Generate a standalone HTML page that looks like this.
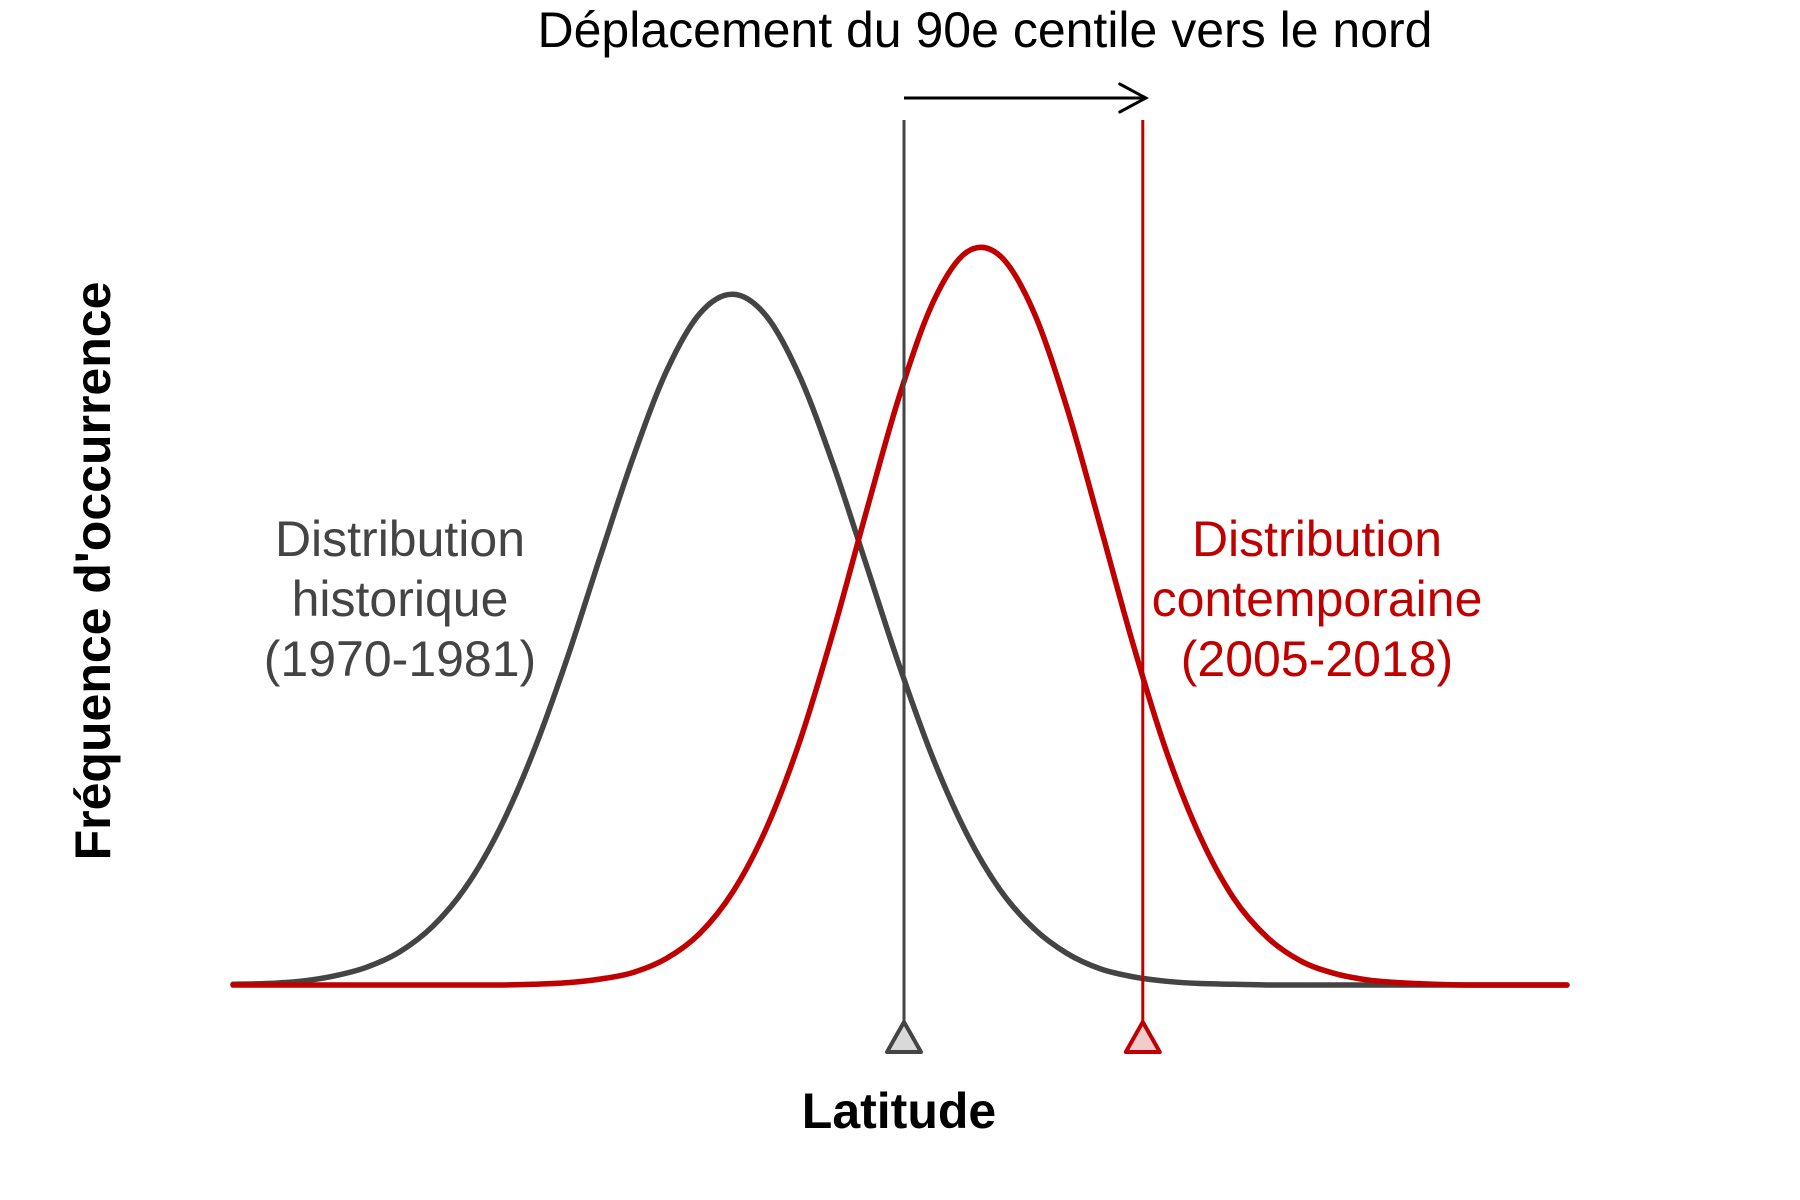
<!DOCTYPE html>
<html><head><meta charset="utf-8"><style>
html,body{margin:0;padding:0;background:#fff;}
svg{display:block;}
text{font-family:"Liberation Sans",Arial,sans-serif;}
</style></head><body>
<svg id="chart" width="1800" height="1200" viewBox="0 0 1800 1200" xmlns="http://www.w3.org/2000/svg">
<text x="985" y="47" font-size="50" text-anchor="middle" fill="#000">Déplacement du 90e centile vers le nord</text>
<g id="marks"></g>
<text x="400" fill="#444" font-size="50" text-anchor="middle"><tspan x="400" y="556">Distribution</tspan><tspan x="400" y="616">historique</tspan><tspan x="400" y="676">(1970-1981)</tspan></text>
<text x="1317" fill="#c00000" font-size="50" text-anchor="middle"><tspan x="1317" y="556">Distribution</tspan><tspan x="1317" y="616">contemporaine</tspan><tspan x="1317" y="676">(2005-2018)</tspan></text>
<text x="899" y="1128" font-size="50" font-weight="bold" text-anchor="middle">Latitude</text>
<text transform="translate(110,571) rotate(-90)" font-size="50" font-weight="bold" text-anchor="middle">Fréquence d'occurrence</text>
</svg>
<script>
const latitudes = [0,2.5,5,7.5,10,12.5,15,17.5,20,22.5,25,27.5,30,32.5,35,37.5,40,42.5,45,47.5,50,52.5,55,57.5,60,62.5,65,67.5,70,72.5,75,77.5,80,82.5,85,87.5,90,92.5,95,97.5,100];
const historicDensity = [0.001,0.002,0.005,0.012,0.024,0.045,0.080,0.134,0.212,0.315,0.440,0.579,0.715,0.832,0.910,0.936,0.906,0.824,0.705,0.568,0.430,0.306,0.205,0.129,0.077,0.043,0.022,0.011,0.005,0.002,0.001,0,0,0,0,0,0,0,0,0,0];
const contemporaryDensity = [0,0,0,0,0,0,0,0,0,0.001,0.003,0.008,0.017,0.036,0.070,0.127,0.213,0.331,0.479,0.643,0.801,0.926,0.993,0.988,0.913,0.783,0.623,0.460,0.315,0.201,0.118,0.065,0.033,0.016,0.007,0.003,0.001,0,0,0,0];
const percentile90 = [50.3, 68.2];

const NS = "http://www.w3.org/2000/svg";
const g = document.getElementById('marks');
const xScale = v => 233 + (v - 0) / 100 * 1334;
const yScale = v => 985 - v * 738;

function mk(tag, attrs){
  const e = document.createElementNS(NS, tag);
  for (const k in attrs) e.setAttribute(k, attrs[k]);
  g.appendChild(e);
  return e;
}
function smoothPath(xs, ys){
  const p = xs.map((x,i)=>[xScale(x), yScale(ys[i])]);
  let d = `M${p[0][0]},${p[0][1]}`;
  for (let i=0;i<p.length-1;i++){
    const p0=p[Math.max(0,i-1)], p1=p[i], p2=p[i+1], p3=p[Math.min(p.length-1,i+2)];
    const c1=[p1[0]+(p2[0]-p0[0])/6, p1[1]+(p2[1]-p0[1])/6];
    const c2=[p2[0]-(p3[0]-p1[0])/6, p2[1]-(p3[1]-p1[1])/6];
    d += ` C${c1[0]},${c1[1]} ${c2[0]},${c2[1]} ${p2[0]},${p2[1]}`;
  }
  return d;
}

const hc = mk('path', {d: smoothPath(latitudes, historicDensity), fill:'none', stroke:'#444', 'stroke-width':5.5, 'stroke-linejoin':'round', 'stroke-linecap':'round'});


const cc = mk('path', {d: smoothPath(latitudes, contemporaryDensity), fill:'none', stroke:'#c00000', 'stroke-width':5.5, 'stroke-linejoin':'round', 'stroke-linecap':'round'});



const colors = ['#444', '#c00000'];
const fills = ['#d9d9d9', '#f2cccc'];
const names = ['historic', 'contemporary'];
percentile90.forEach((q, i) => {
  const x = xScale(q);
  const l = mk('line', {x1:x, x2:x, y1:120, y2:1022, stroke:colors[i], 'stroke-width':3});
  
  
  const t = mk('polygon', {points:`${x},1022 ${x-17},1052 ${x+17},1052`, fill:fills[i], stroke:colors[i], 'stroke-width':4, 'stroke-linejoin':'round'});
  
  
});

const x0 = xScale(percentile90[0]), x1 = xScale(percentile90[1]);
const ar = mk('line', {x1:x0, x2:x1+2, y1:98, y2:98, stroke:'#000', 'stroke-width':3});


const ah = mk('polyline', {points:`${x1-23},84 ${x1+3},98 ${x1-23},112`, fill:'none', stroke:'#000', 'stroke-width':3, 'stroke-linecap':'round'});


</script>
</body></html>
